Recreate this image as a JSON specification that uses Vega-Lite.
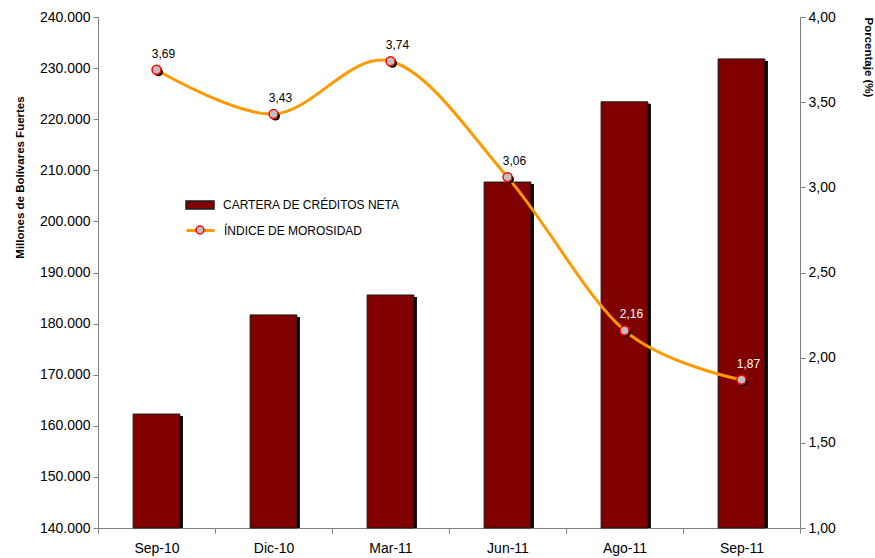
{
  "$schema": "https://vega.github.io/schema/vega-lite/v6.json",
  "width": 702,
  "height": 511,
  "autosize": {"type": "none"},
  "padding": {"left": 98, "top": 17, "right": 75, "bottom": 30},
  "background": "white",
  "config": {
    "view": {"stroke": null},
    "font": "Liberation Sans",
    "locale": {"number": {"decimal": ",", "thousands": ".", "grouping": [3], "currency": ["", ""]}},
    "axis": {"grid": false, "domainColor": "#808080", "tickColor": "#808080", "labelColor": "black", "labelFont": "Liberation Sans", "titleFont": "Liberation Sans", "titleColor": "black"}
  },
  "data": {"values": [
    {"periodo": "Sep-10", "cartera": 162300, "indice": 3.69},
    {"periodo": "Dic-10", "cartera": 181700, "indice": 3.43},
    {"periodo": "Mar-11", "cartera": 185600, "indice": 3.74},
    {"periodo": "Jun-11", "cartera": 207700, "indice": 3.06},
    {"periodo": "Ago-11", "cartera": 223400, "indice": 2.16},
    {"periodo": "Sep-11", "cartera": 231800, "indice": 1.87}
  ]},
  "encoding": {
    "x": {
      "field": "periodo", "type": "nominal", "sort": null,
      "scale": {"paddingInner": 0, "paddingOuter": 0},
      "axis": {"title": null, "labelAngle": 0, "tickBand": "extent", "tickSize": 5, "labelFontSize": 14, "labelPadding": 8}
    }
  },
  "layer": [
    {
      "encoding": {
        "y": {
          "field": "cartera", "type": "quantitative",
          "scale": {"domain": [140000, 240000], "zero": false, "nice": false},
          "axis": {"orient": "left", "values": [140000, 150000, 160000, 170000, 180000, 190000, 200000, 210000, 220000, 230000, 240000], "format": ",d", "labelFontSize": 14, "tickSize": 5, "labelPadding": 3,
            "title": "Millones de Bolívares Fuertes", "titleFontSize": 11.5, "titleFontWeight": "bold", "titleAngle": -90, "titleAlign": "center", "titleBaseline": "middle", "titleX": -78, "titleY": 160}
        },
        "y2": {"datum": 140000}
      },
      "layer": [
        {"mark": {"type": "bar", "color": "black", "width": {"band": 0.4}, "xOffset": 3, "yOffset": 2}},
        {
          "mark": {"type": "bar", "stroke": "#1a1a1a", "strokeWidth": 1, "width": {"band": 0.4}},
          "encoding": {
            "color": {
              "datum": "CARTERA DE CRÉDITOS NETA",
              "scale": {"range": ["#800000"]},
              "legend": {"title": null, "orient": "none", "legendX": 87, "legendY": 173, "padding": 0, "labelLimit": 400,
                "symbolType": "M-1,-0.28L1,-0.28L1,0.28L-1,0.28Z", "symbolSize": 784, "labelFontSize": 12, "labelColor": "black", "labelOffset": 8, "labelFont": "Liberation Sans",
                "encode": {"symbols": {"update": {"stroke": {"value": "black"}, "strokeWidth": {"value": 2}, "fill": {"value": "#800000"}, "opacity": {"value": 1}}}}}
            }
          }
        }
      ]
    },
    {
      "encoding": {
        "y": {
          "field": "indice", "type": "quantitative",
          "scale": {"domain": [1, 4], "zero": false, "nice": false},
          "axis": {"orient": "right", "values": [1, 1.5, 2, 2.5, 3, 3.5, 4], "format": ".2f", "labelFontSize": 14, "tickSize": 5, "labelPadding": 3,
            "title": "Porcentaje (%)", "titleFontSize": 11.5, "titleFontWeight": "bold", "titleAngle": 90, "titleAlign": "left", "titleBaseline": "middle", "titleX": 67, "titleY": 0}
        }
      },
      "layer": [
        {
          "mark": {"type": "line", "interpolate": "cardinal", "tension": 0, "strokeWidth": 3},
          "encoding": {
            "stroke": {
              "datum": "ÍNDICE DE MOROSIDAD",
              "scale": {"range": ["#FF9900"]},
              "legend": {"title": null, "orient": "none", "legendX": 87, "legendY": 198, "padding": 0, "labelLimit": 400,
                "symbolType": "M-1,0L1,0", "symbolSize": 784, "labelFontSize": 12, "labelColor": "black", "labelOffset": 8, "labelFont": "Liberation Sans",
                "encode": {"symbols": {"update": {"stroke": {"value": "#FF9900"}, "strokeWidth": {"value": 3}, "opacity": {"value": 1}}}}}
            }
          }
        },
        {"mark": {"type": "point", "filled": true, "color": "black", "size": 80, "xOffset": 2, "yOffset": 2, "opacity": 1}},
        {
          "mark": {"type": "point", "shape": "circle", "stroke": "red", "strokeWidth": 1.5, "size": 80, "opacity": 1},
          "encoding": {
            "fill": {
              "datum": "ÍNDICE DE MOROSIDAD ",
              "scale": {"range": ["#C0C0C0"]},
              "legend": {"title": null, "orient": "none", "legendX": 87, "legendY": 198, "padding": 0,
                "symbolType": "M-0.28,0A0.28,0.28 0 1 1 0.28,0A0.28,0.28 0 1 1 -0.28,0Z", "symbolSize": 784, "labelFontSize": 12, "labelColor": "transparent", "labelOffset": 8,
                "encode": {"symbols": {"update": {"stroke": {"value": "red"}, "strokeWidth": {"value": 1.5}, "fill": {"value": "#C0C0C0"}, "opacity": {"value": 1}}}}}
            }
          }
        },
        {
          "mark": {"type": "text", "fontSize": 12, "dx": 7, "dy": -12, "baseline": "alphabetic", "align": "center", "font": "Liberation Sans"},
          "encoding": {
            "text": {"field": "indice", "type": "quantitative", "format": ".2f"},
            "color": {"condition": {"test": "datum.indice < 2.5", "value": "white"}, "value": "black"}
          }
        }
      ]
    }
  ],
  "resolve": {"scale": {"y": "independent"}, "axis": {"y": "independent"}}
}
